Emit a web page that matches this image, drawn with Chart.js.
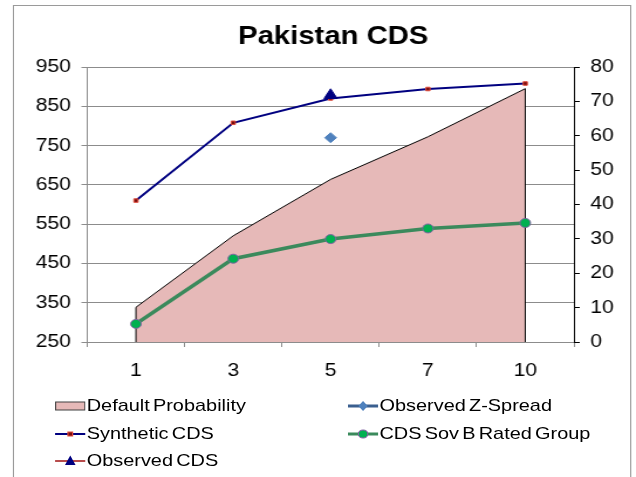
<!DOCTYPE html>
<html><head><meta charset="utf-8">
<script src="https://cdn.jsdelivr.net/npm/chart.js@4.4.1/dist/chart.umd.min.js"></script>
<style>
html,body{margin:0;padding:0;background:#fff;overflow:hidden;width:636px;height:477px;}
#wrap{position:absolute;left:0;top:0;width:543px;height:477px;transform:scaleX(1.17127);transform-origin:0 0;}
#frame{position:absolute;left:11px;top:5px;width:526px;height:490px;border:1px solid #9a9a9a;}
canvas{position:absolute;left:0;top:0;}
.lg{position:absolute;height:20px;line-height:20px;font:17px "Liberation Sans",Arial,sans-serif;word-spacing:-2px;white-space:nowrap;color:#000;display:flex;align-items:center;}
.lg svg{margin-right:1px;flex:none;}
</style></head>
<body>
<div id="wrap">
<div id="frame"></div>
<canvas id="c" width="543" height="477"></canvas>
<div id="legend"></div>
</div>
<script>
// ---- data ----
const categories = ['1', '3', '5', '7', '10'];
const seriesNames = ['Default Probability', 'Observed Z-Spread', 'Synthetic CDS', 'CDS Sov B Rated Group', 'Observed CDS'];
const defaultProbability = [10.1, 30.9, 47.3, 59.7, 73.7];   // right axis
const observedZSpread = [null, null, 770, null, null];       // left axis
const syntheticCDS = [610, 808, 870, 894, 908];              // left axis
const cdsSovBRated = [296, 462, 512, 539, 553];              // left axis
const observedCDS = [null, null, 878, null, null];           // left axis
const leftTicks = [250, 350, 450, 550, 650, 750, 850, 950];
const rightTicks = [0, 10, 20, 30, 40, 50, 60, 70, 80];

const FONT = '"Liberation Sans", Arial, sans-serif';
const GRID = '#8c8c8c';

const areaEdges = {
  id: 'areaEdges',
  afterDatasetDraw(chart, args) {
    if (args.index !== 0) return;
    const pts = args.meta.data;
    const ctx = chart.ctx;
    const base = chart.scales.y1.getPixelForValue(0);
    const a = pts[0], b = pts[pts.length - 1];
    ctx.save();
    ctx.strokeStyle = '#000';
    ctx.lineWidth = 1;
    ctx.beginPath();
    ctx.moveTo(a.x, a.y); ctx.lineTo(a.x, base);
    ctx.moveTo(b.x, b.y); ctx.lineTo(b.x, base);
    ctx.stroke();
    ctx.restore();
  }
};

new Chart(document.getElementById('c'), {
  type: 'line',
  data: {
    labels: categories,
    datasets: [
      {
        label: seriesNames[0], data: defaultProbability, yAxisID: 'y1',
        fill: 'origin', backgroundColor: '#E6B9B8', borderColor: '#000', borderWidth: 1,
        pointRadius: 0, tension: 0, order: 10
      },
      {
        label: seriesNames[1], data: observedZSpread, yAxisID: 'y', showLine: false,
        pointStyle: 'rectRot', pointRadius: 5, pointBackgroundColor: '#4F81BD', pointBorderColor: '#4F81BD',
        pointBorderWidth: 1, borderColor: '#4F81BD', order: 2
      },
      {
        label: seriesNames[2], data: syntheticCDS, yAxisID: 'y',
        borderColor: '#000080', borderWidth: 2, tension: 0, fill: false,
        pointStyle: 'rect', pointRadius: 2.5, pointBackgroundColor: '#7a1010', pointBorderColor: '#e04a3a',
        pointBorderWidth: 1, order: 3
      },
      {
        label: seriesNames[3], data: cdsSovBRated, yAxisID: 'y',
        borderColor: '#3B8A5C', borderWidth: 3.5, tension: 0, fill: false,
        pointStyle: 'circle', pointRadius: 4.5, pointBackgroundColor: '#00B050', pointBorderColor: '#8064A2',
        pointBorderWidth: 1, order: 4
      },
      {
        label: seriesNames[4], data: observedCDS, yAxisID: 'y', showLine: false,
        pointStyle: 'triangle', pointRadius: 6.5, pointBackgroundColor: '#000080', pointBorderColor: '#000080',
        pointBorderWidth: 1, borderColor: '#000080', order: 1
      }
    ]
  },
  options: {
    responsive: false,
    animation: false,
    devicePixelRatio: 1,
    events: [],
    layout: { padding: { left: 26, right: 0, top: 0, bottom: 0 } },
    plugins: {
      legend: { display: false },
      tooltip: { enabled: false },
      title: {
        display: true, text: 'Pakistan CDS', color: '#000',
        font: { family: FONT, size: 25, weight: 'bold', lineHeight: 1.2 },
        padding: { top: 22, bottom: 15 }
      }
    },
    scales: {
      x: {
        offset: true,
        grid: { offset: true, drawOnChartArea: false, drawTicks: true, tickLength: 5, color: GRID },
        border: { display: true, color: GRID },
        ticks: { color: '#000', font: { family: FONT, size: 18 }, padding: 13, maxRotation: 0 },
        afterFit(s) { s.height = 135; }
      },
      y: {
        position: 'left', min: 250, max: 950,
        afterBuildTicks(s) { s.ticks = leftTicks.map(v => ({ value: v })); },
        grid: { color: GRID, tickLength: 5, drawTicks: true },
        border: { display: true, color: GRID },
        ticks: { color: '#000', font: { family: FONT, size: 18 }, padding: 9 },
        afterFit(s) { s.width = 48.5; }
      },
      y1: {
        position: 'right', min: 0, max: 80,
        afterBuildTicks(s) { s.ticks = rightTicks.map(v => ({ value: v })); },
        grid: { drawOnChartArea: false, color: '#000', tickLength: 5, drawTicks: true },
        border: { display: true, color: '#000' },
        ticks: { color: '#000', font: { family: FONT, size: 18 }, padding: 9 },
        afterFit(s) { s.width = 53; }
      }
    }
  },
  plugins: [areaEdges]
});

// ---- HTML legend (two columns, like the original) ----
const symbols = [
  '<svg width="26" height="20"><rect x="0.5" y="6" width="25" height="8" fill="#E6B9B8" stroke="#404040" stroke-width="1"/></svg>',
  '<svg width="26" height="20"><line x1="0" y1="10" x2="26" y2="10" stroke="#3A5F8F" stroke-width="3"/><polygon points="13,5 17,10 13,15 9,10" fill="#4F81BD"/></svg>',
  '<svg width="26" height="20"><line x1="0" y1="10" x2="26" y2="10" stroke="#000080" stroke-width="2"/><rect x="11" y="8" width="4" height="4" fill="#7a1010" stroke="#e04a3a" stroke-width="1"/></svg>',
  '<svg width="26" height="20"><line x1="0" y1="10" x2="26" y2="10" stroke="#3B8A5C" stroke-width="3"/><circle cx="13" cy="10" r="4" fill="#00B050" stroke="#8064A2" stroke-width="1"/></svg>',
  '<svg width="26" height="20"><line x1="0" y1="10" x2="26" y2="10" stroke="#A01010" stroke-width="1.5"/><polygon points="13,4.5 17.5,14 8.5,14" fill="#000080"/></svg>'
];
const legendPos = [[47, 396], [297, 396], [47, 424], [297, 424], [47, 451]];
const lg = document.getElementById('legend');
seriesNames.forEach((name, i) => {
  const d = document.createElement('div');
  d.className = 'lg';
  d.style.left = legendPos[i][0] + 'px';
  d.style.top = legendPos[i][1] + 'px';
  d.innerHTML = symbols[i] + '<span>' + name + '</span>';
  lg.appendChild(d);
});
</script>
</body></html>
